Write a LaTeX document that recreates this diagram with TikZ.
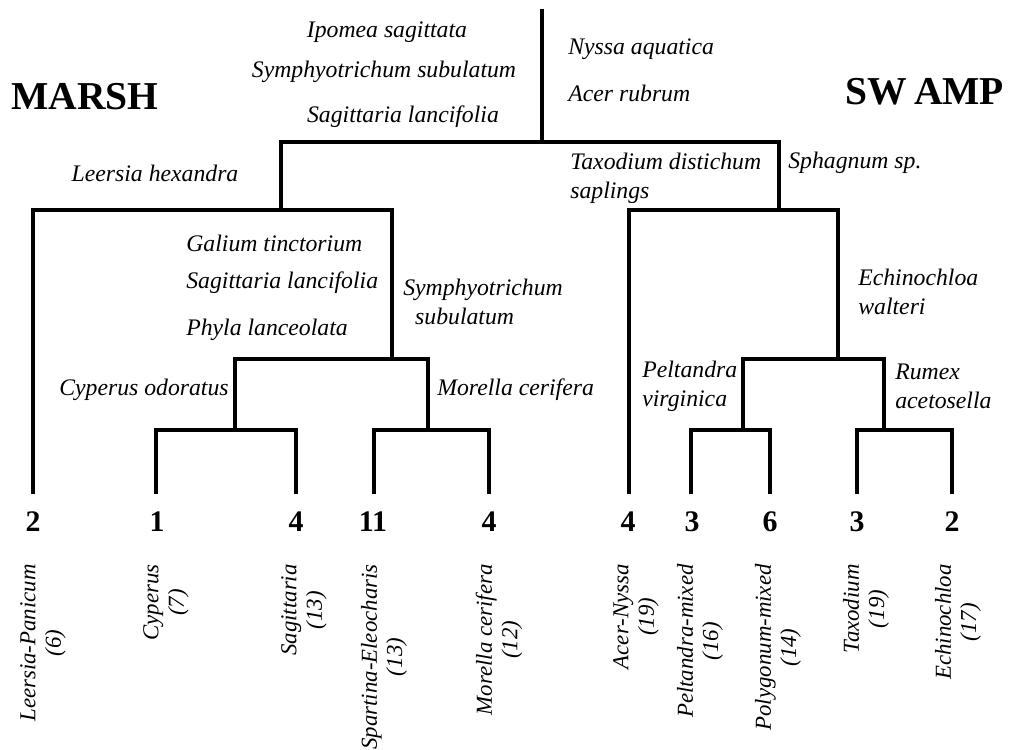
\documentclass[tikz,border=0pt]{standalone}
\usepackage{fontspec}
\setmainfont{Liberation Serif}
\usepackage{tikz}
\tikzstyle{species} = [font=\fontsize{13.5}{16.5}\selectfont\itshape,
inner sep=0pt, align=left]
\tikzstyle{leaf} = [font=\fontsize{13}{14.5}\selectfont\itshape,
inner sep=0pt, rotate=90, anchor=east, align=center]
\tikzstyle{tally} = [font=\fontsize{17}{20}\selectfont\bfseries, inner sep=0pt]
\tikzstyle{habitat} = [font=\fontsize{22.5}{27}\selectfont\bfseries, inner sep=0pt]
\tikzstyle{branch} = [line width=2.2pt, line join=miter]

\begin{document}
\begin{tikzpicture}[x=0.02cm, y=-0.02cm]
  \useasboundingbox (0,0) rectangle (1009,750);
  % Junctions of the dendrogram
  \coordinate (stem) at (542,9);
  \coordinate (root) at (542,142);
  \coordinate (marsh) at (281,210);
  \coordinate (swamp) at (779,210);
  \coordinate (mA) at (392,359);
  \coordinate (mB) at (235,430);
  \coordinate (mC) at (428,430);
  \coordinate (sD) at (838,359);
  \coordinate (sE) at (743,430);
  \coordinate (sF) at (884,430);
  % Leaf ends
  \coordinate (leersia) at (33,494);
  \coordinate (cyperus) at (156,494);
  \coordinate (sagitt) at (296,494);
  \coordinate (spartina) at (374,494);
  \coordinate (morella) at (489,494);
  \coordinate (acer) at (629,494);
  \coordinate (peltandra) at (691,494);
  \coordinate (polygonum) at (770,494);
  \coordinate (taxodium) at (857,494);
  \coordinate (echino) at (952,494);
  % Group titles
  \node (marshtitle) [habitat] at (85,97) {MARSH};
  \node (swamptitle) [habitat] at (925,92) {SW\,AMP};
  % Species at the root
  \node (ipomea) [species] at (387,32) {Ipomea sagittata};
  \node (symph) [species] at (384,72) {Symphyotrichum subulatum};
  \node (sagroot) [species] at (403,117) {Sagittaria lancifolia};
  \node (nyssa) [species, anchor=west] at (568,49) {Nyssa aquatica};
  \node (acerrub) [species, anchor=west] at (568,93) {Acer rubrum};
  % Species at the marsh branches
  \node (leerhex) [species] at (155,173) {Leersia hexandra};
  \node (galium) [species, anchor=west] at (186,243) {Galium tinctorium};
  \node (saglanc) [species, anchor=west] at (186,283)
                  {Sagittaria lancifolia};
  \node (phyla) [species, anchor=west] at (186,330) {Phyla lanceolata};
  \node (symsub) [species, anchor=west] at (403,302)
                 {Symphyotrichum \\ \hspace{0.5em}subulatum};
  \node (cypodo) [species, anchor=east] at (229,390) {Cyperus odoratus};
  \node (morcer) [species, anchor=west] at (437,390) {Morella cerifera};
  % Species at the swamp branches
  \node (taxdis) [species, anchor=west] at (570,178)
                 {Taxodium distichum \\ saplings};
  \node (sphag) [species, anchor=west] at (788,163) {Sphagnum sp.};
  \node (echwal) [species, anchor=west] at (858,292)
                 {Echinochloa \\ walteri};
  \node (pelvir) [species, anchor=west] at (642,386)
                 {Peltandra \\ virginica};
  \node (rumace) [species, anchor=west] at (895,386)
                 {Rumex \\ acetosella};
  % Counts under the leaves
  \node (n1) [tally] at (33,522) {2};
  \node (n2) [tally] at (157,522) {1};
  \node (n3) [tally] at (296,522) {4};
  \node (n4) [tally] at (373,522) {11};
  \node (n5) [tally] at (489,522) {4};
  \node (n6) [tally] at (628,522) {4};
  \node (n7) [tally] at (692,522) {3};
  \node (n8) [tally] at (770,522) {6};
  \node (n9) [tally] at (857,522) {3};
  \node (n10) [tally] at (952,522) {2};
  % Community names
  \node (l1) [leaf] at (43,564) {Leersia-Panicum \\ (6)};
  \node (l2) [leaf] at (166,564) {Cyperus \\ (7)};
  \node (l3) [leaf] at (304,564) {Sagittaria \\ (13)};
  \node (l4) [leaf] at (384,564) {Spartina-Eleocharis \\ (13)};
  \node (l5) [leaf] at (499,564) {Morella cerifera \\ (12)};
  \node (l6) [leaf] at (636,564) {Acer-Nyssa \\ (19)};
  \node (l7) [leaf] at (700,564) {Peltandra-mixed \\ (16)};
  \node (l8) [leaf] at (778,564) {Polygonum-mixed \\ (14)};
  \node (l9) [leaf] at (866,564) {Taxodium \\ (19)};
  \node (l10) [leaf] at (958,564) {Echinochloa \\ (17)};
  % Branches
  \draw [branch] (stem) -- (root);
  \draw [branch] (root) -| (marsh);
  \draw [branch] (root) -| (swamp);
  \draw [branch] (marsh) -| (leersia);
  \draw [branch] (marsh) -| (mA);
  \draw [branch] (mA) -| (mB);
  \draw [branch] (mA) -| (mC);
  \draw [branch] (mB) -| (cyperus);
  \draw [branch] (mB) -| (sagitt);
  \draw [branch] (mC) -| (spartina);
  \draw [branch] (mC) -| (morella);
  \draw [branch] (swamp) -| (acer);
  \draw [branch] (swamp) -| (sD);
  \draw [branch] (sD) -| (sE);
  \draw [branch] (sD) -| (sF);
  \draw [branch] (sE) -| (peltandra);
  \draw [branch] (sE) -| (polygonum);
  \draw [branch] (sF) -| (taxodium);
  \draw [branch] (sF) -| (echino);
\end{tikzpicture}
\end{document}
